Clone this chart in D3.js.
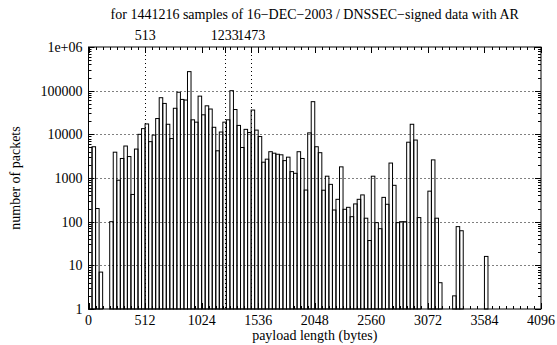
<!DOCTYPE html>
<html><head><meta charset="utf-8">
<script src="https://cdn.jsdelivr.net/npm/d3@7/dist/d3.min.js"></script>
<style>
html,body{margin:0;padding:0;background:#fff;}
svg{display:block;}
text{font-family:"Liberation Serif","Times New Roman",serif;fill:#000;}
</style></head>
<body>
<svg id="chart" width="557" height="345"></svg>
<script>
// 32-byte bins of payload length, counts per bin (0 = empty)
const binWidth = 32;
const counts = [
  5000, 5200, 200, 7, 0, 0, 100, 3900, 890, 2800,
  5400, 3100, 420, 4600, 10000, 13500, 17300, 6800, 9600, 23000,
  69000, 51000, 17000, 8000, 39500, 92000, 63000, 61000, 273000, 21500,
  19000, 75000, 28000, 45000, 38000, 14500, 4200, 11300, 19000, 21500,
  100000, 37000, 16000, 5000, 13000, 11000, 36000, 12500, 8900, 2300,
  2700, 4000, 3700, 3500, 3400, 2500, 3000, 1400, 1280, 4000,
  2800, 530, 10800, 56000, 5200, 3800, 525, 1100, 715, 185,
  325, 1800, 192, 213, 130, 255, 325, 410, 120, 37,
  1100, 95, 69, 360, 250, 2200, 680, 95, 100, 100,
  6600, 17000, 7400, 124, 0, 0, 500, 2600, 120, 4,
  0, 0, 0, 2, 77, 62, 0, 0, 0, 0,
  0, 0, 16, 0, 0, 0, 0, 0, 0, 0,
  0, 0, 0, 0, 0, 0, 0, 0
];
const xTicks = [0, 512, 1024, 1536, 2048, 2560, 3072, 3584, 4096];
const x2Ticks = [513, 1233, 1473];
const yTicks = [1, 10, 100, 1000, 10000, 100000, 1000000];
const yTickLabels = ["1", "10", "100", "1000", "10000", "100000", "1e+06"];
const title = "for 1441216 samples of 16\u2212DEC\u22122003 / DNSSEC\u2212signed data with AR";
const xLabel = "payload length (bytes)";
const yLabel = "number of packets";

const L = 88.5, R = 541, T = 47, B = 309;
const svg = d3.select("#chart");
const x = d3.scaleLinear().domain([0, 4096]).range([L, R]);
const y = d3.scaleLog().domain([1, 1e6]).range([B, T]);
const fs = 14;

// grid
const g = svg.append("g");
g.selectAll("line.hg").data(yTicks.slice(1, -1)).enter().append("line")
  .attr("x1", L).attr("x2", R).attr("y1", d => Math.round(y(d)) + 0.5).attr("y2", d => Math.round(y(d)) + 0.5)
  .attr("stroke", "#000").attr("stroke-width", 1).attr("stroke-dasharray", "1,3");
g.selectAll("line.vg").data(x2Ticks).enter().append("line")
  .attr("x1", d => Math.round(x(d)) + 0.5).attr("x2", d => Math.round(x(d)) + 0.5).attr("y1", T).attr("y2", B)
  .attr("stroke", "#000").attr("stroke-width", 1).attr("stroke-dasharray", "1,3");

// bars
const bars = counts.map((c, i) => ({x0: i * binWidth, x1: (i + 1) * binWidth, c})).filter(d => d.c > 1);
svg.append("g").selectAll("rect").data(bars).enter().append("rect")
  .attr("x", d => x(d.x0)).attr("width", d => x(d.x1) - x(d.x0))
  .attr("y", d => y(d.c)).attr("height", d => B - y(d.c))
  .attr("fill", "none").attr("stroke", "#000").attr("stroke-width", 1);

// axes with ticks drawn inward (gnuplot style), mirrored
const maj = 6, mnr = 3;
const ax = svg.append("g").attr("stroke", "#000").attr("stroke-width", 1);
const xMinor = d3.range(0, 4097, 64).filter(v => v % 512 !== 0);
xTicks.forEach(v => {
  const px = Math.round(x(v)) + 0.5;
  ax.append("line").attr("x1", px).attr("x2", px).attr("y1", B).attr("y2", B - maj);
  ax.append("line").attr("x1", px).attr("x2", px).attr("y1", T).attr("y2", T + maj);
});
xMinor.forEach(v => {
  const px = Math.round(x(v)) + 0.5;
  ax.append("line").attr("x1", px).attr("x2", px).attr("y1", B).attr("y2", B - mnr);
  ax.append("line").attr("x1", px).attr("x2", px).attr("y1", T).attr("y2", T + mnr);
});
x2Ticks.forEach(v => {
  const px = Math.round(x(v)) + 0.5;
  ax.append("line").attr("x1", px).attr("x2", px).attr("y1", T).attr("y2", T + maj);
});
const yMinor = [];
for (let e = 0; e < 6; e++) for (let k = 2; k <= 9; k++) yMinor.push(k * Math.pow(10, e));
yTicks.forEach(v => {
  const py = Math.round(y(v)) + 0.5;
  ax.append("line").attr("x1", L).attr("x2", L + maj).attr("y1", py).attr("y2", py);
  ax.append("line").attr("x1", R).attr("x2", R - maj).attr("y1", py).attr("y2", py);
});
yMinor.forEach(v => {
  const py = Math.round(y(v)) + 0.5;
  ax.append("line").attr("x1", L).attr("x2", L + mnr).attr("y1", py).attr("y2", py);
  ax.append("line").attr("x1", R).attr("x2", R - mnr).attr("y1", py).attr("y2", py);
});
// frame
svg.append("rect").attr("x", L).attr("y", T).attr("width", R - L).attr("height", B - T)
  .attr("fill", "none").attr("stroke", "#000").attr("stroke-width", 1);

// tick labels
svg.append("g").selectAll("text").data(xTicks).enter().append("text")
  .attr("x", d => x(d)).attr("y", B + 16).attr("text-anchor", "middle")
  .style("font-size", fs + "px").text(d => d);
svg.append("g").selectAll("text").data(x2Ticks).enter().append("text")
  .attr("x", d => x(d)).attr("y", T - 7).attr("text-anchor", "middle")
  .style("font-size", fs + "px").text(d => d);
svg.append("g").selectAll("text").data(yTicks).enter().append("text")
  .attr("x", L - 6).attr("y", d => y(d)).attr("dy", "0.35em").attr("text-anchor", "end")
  .style("font-size", fs + "px").text((d, i) => yTickLabels[i]);

// titles
svg.append("text").attr("x", (L + R) / 2).attr("y", 19).attr("text-anchor", "middle")
  .style("font-size", fs + "px").text(title);
svg.append("text").attr("x", (L + R) / 2).attr("y", B + 31).attr("text-anchor", "middle")
  .style("font-size", fs + "px").text(xLabel);
svg.append("text").attr("transform", `translate(20,${(T + B) / 2}) rotate(-90)`)
  .attr("text-anchor", "middle").style("font-size", fs + "px").text(yLabel);
</script>
</body></html>
